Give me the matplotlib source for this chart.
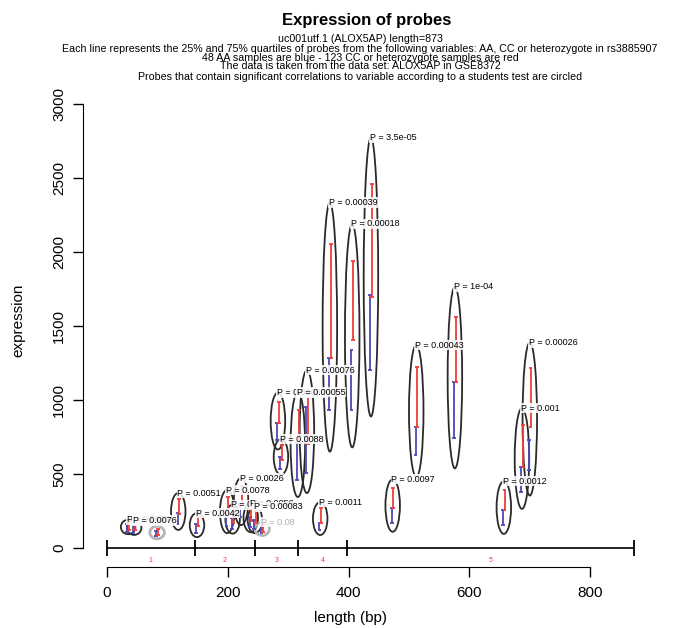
import matplotlib
matplotlib.use("Agg")
import matplotlib.pyplot as plt
from matplotlib.patches import Ellipse
import numpy as np

plt.rcParams['font.family'] = ['Liberation Sans', 'DejaVu Sans']

# probe data (positions in bp, 25%/75% quartiles per group)
probe_pos = [35, 45, 83, 118, 149, 199, 208, 222, 238, 245, 257, 283, 288,
             316, 331, 353, 369, 406, 437, 473, 512, 576, 657, 687, 700]
red_lo = [125, 120, 85, 230, 150, 240, 170, 290, 180, 170, 110, 845, 595,
          709, 700, 169, 1284, 1405, 1696, 270, 818, 1122, 257, 547, 818]
red_hi = [175, 170, 130, 330, 209, 343, 260, 420, 270, 248, 160, 986, 696,
          936, 1064, 273, 2054, 1939, 2459, 405, 1223, 1561, 392, 831, 1216]
blue_lo = [110, 105, 80, 164, 101, 149, 130, 208, 140, 130, 100, 730, 535,
           463, 510, 125, 932, 932, 1203, 169, 628, 743, 155, 378, 527]
blue_hi = [160, 150, 115, 240, 160, 250, 200, 300, 210, 190, 140, 845, 615,
           709, 950, 169, 1284, 1338, 1709, 270, 818, 1122, 257, 547, 730]
p_labels = ["P = 0.0071", "P = 0.0076", "", "P = 0.0051", "P = 0.0042",
            "P = 0.0078", "P = 0.0032", "P = 0.0026", "P = 0.0056",
            "P = 0.00083", "P = 0.08", "P = 0.00062", "P = 0.0088",
            "P = 0.00055", "P = 0.00076", "P = 0.0011", "P = 0.00039",
            "P = 0.00018", "P = 3.5e-05", "P = 0.0097", "P = 0.00043",
            "P = 1e-04", "P = 0.0012", "P = 0.001", "P = 0.00026"]
significant = [True, True, False, True, True, True, True, True, True, True,
               False, True, True, True, True, True, True, True, True, True,
               True, True, True, True, True]

# exon structure of the transcript
exon_bounds = [0, 145, 245, 316, 398, 873]
exon_names = ["1", "2", "3", "4", "5"]

RED = "#f03c3c"
BLUE = "#4a4ab8"

fig = plt.figure(figsize=(6.75, 6.28), dpi=100)
ax = fig.add_axes([83 / 675, 61 / 628, 567 / 675, 472 / 628])
ax.set_xlim(-39.7, 899)
ax.set_ylim(-128, 3061)

for spine in ["top", "right"]:
    ax.spines[spine].set_visible(False)
ax.spines["left"].set_bounds(0, 3000)
ax.spines["bottom"].set_bounds(0, 800)
ax.set_xticks([0, 200, 400, 600, 800])
ax.set_yticks([0, 500, 1000, 1500, 2000, 2500, 3000])
ax.tick_params(direction="out", length=7, width=1, labelsize=11)
ax.tick_params(axis="x", pad=7)
ax.tick_params(axis="y", labelrotation=90, pad=5)
for lab in ax.get_yticklabels():
    lab.set_va("center")

# exon bar
ax.hlines(0, exon_bounds[0], exon_bounds[-1], color="black", lw=1.2)
ax.vlines(exon_bounds, -55, 55, color="black", lw=1.3)
for i, name in enumerate(exon_names):
    mid = (exon_bounds[i] + exon_bounds[i + 1]) / 2
    ax.text(mid, -85, name, color=RED, fontsize=5, ha="center", va="center")

cap = 3.2
for i, x in enumerate(probe_pos):
    xb, xr = x - 1.2, x + 1.2
    ax.vlines(xb, blue_lo[i], blue_hi[i], color=BLUE, lw=1.3)
    ax.hlines([blue_lo[i], blue_hi[i]], xb - cap, xb + cap, color=BLUE, lw=1.3)
    ax.vlines(xr, red_lo[i], red_hi[i], color=RED, lw=1.3)
    ax.hlines([red_lo[i], red_hi[i]], xr - cap, xr + cap, color=RED, lw=1.3)

    lo = min(red_lo[i], blue_lo[i])
    hi = max(red_hi[i], blue_hi[i])
    c = (lo + hi) / 2
    h = max(1.5 * (hi - lo), 85)
    if significant[i]:
        ec, lw, tc = "#2a2a2a", 1.3, "black"
    else:
        ec, lw, tc = "#b5b5b5", 2.0, "#b0b0b0"
    ax.add_patch(Ellipse((x, c), 24, h, fill=False, ec=ec, lw=lw))
    if p_labels[i]:
        ax.text(x - 2, c + h / 2, p_labels[i], fontsize=6.5, color=tc,
                ha="left", va="center",
                bbox=dict(fc="white", ec="none", pad=0.4, alpha=0.85))

fig.text(18 / 675, 0.49, "expression", rotation=90, ha="center", va="center",
         fontsize=11)
fig.text(350 / 675, 10 / 628, "length (bp)", ha="center", va="center",
         fontsize=11)

fig.text(367 / 675, 1 - 20 / 628, "Expression of probes", ha="center",
         va="center", fontsize=12, fontweight="bold")
sub = ["uc001utf.1 (ALOX5AP) length=873",
       "Each line represents the 25% and 75% quartiles of probes from the "
       "following variables: AA, CC or heterozygote in rs3885907",
       "48 AA samples are blue - 123 CC or heterozygote samples are red",
       "The data is taken from the data set: ALOX5AP in GSE8372",
       "Probes that contain significant correlations to variable according "
       "to a students test are circled"]
sub_y = [39, 49, 58, 66, 77]
for s, yy in zip(sub, sub_y):
    fig.text(360 / 675, 1 - yy / 628, s, ha="center", va="center", fontsize=7.7)

fig.savefig("out.png", dpi=100, facecolor="white")
